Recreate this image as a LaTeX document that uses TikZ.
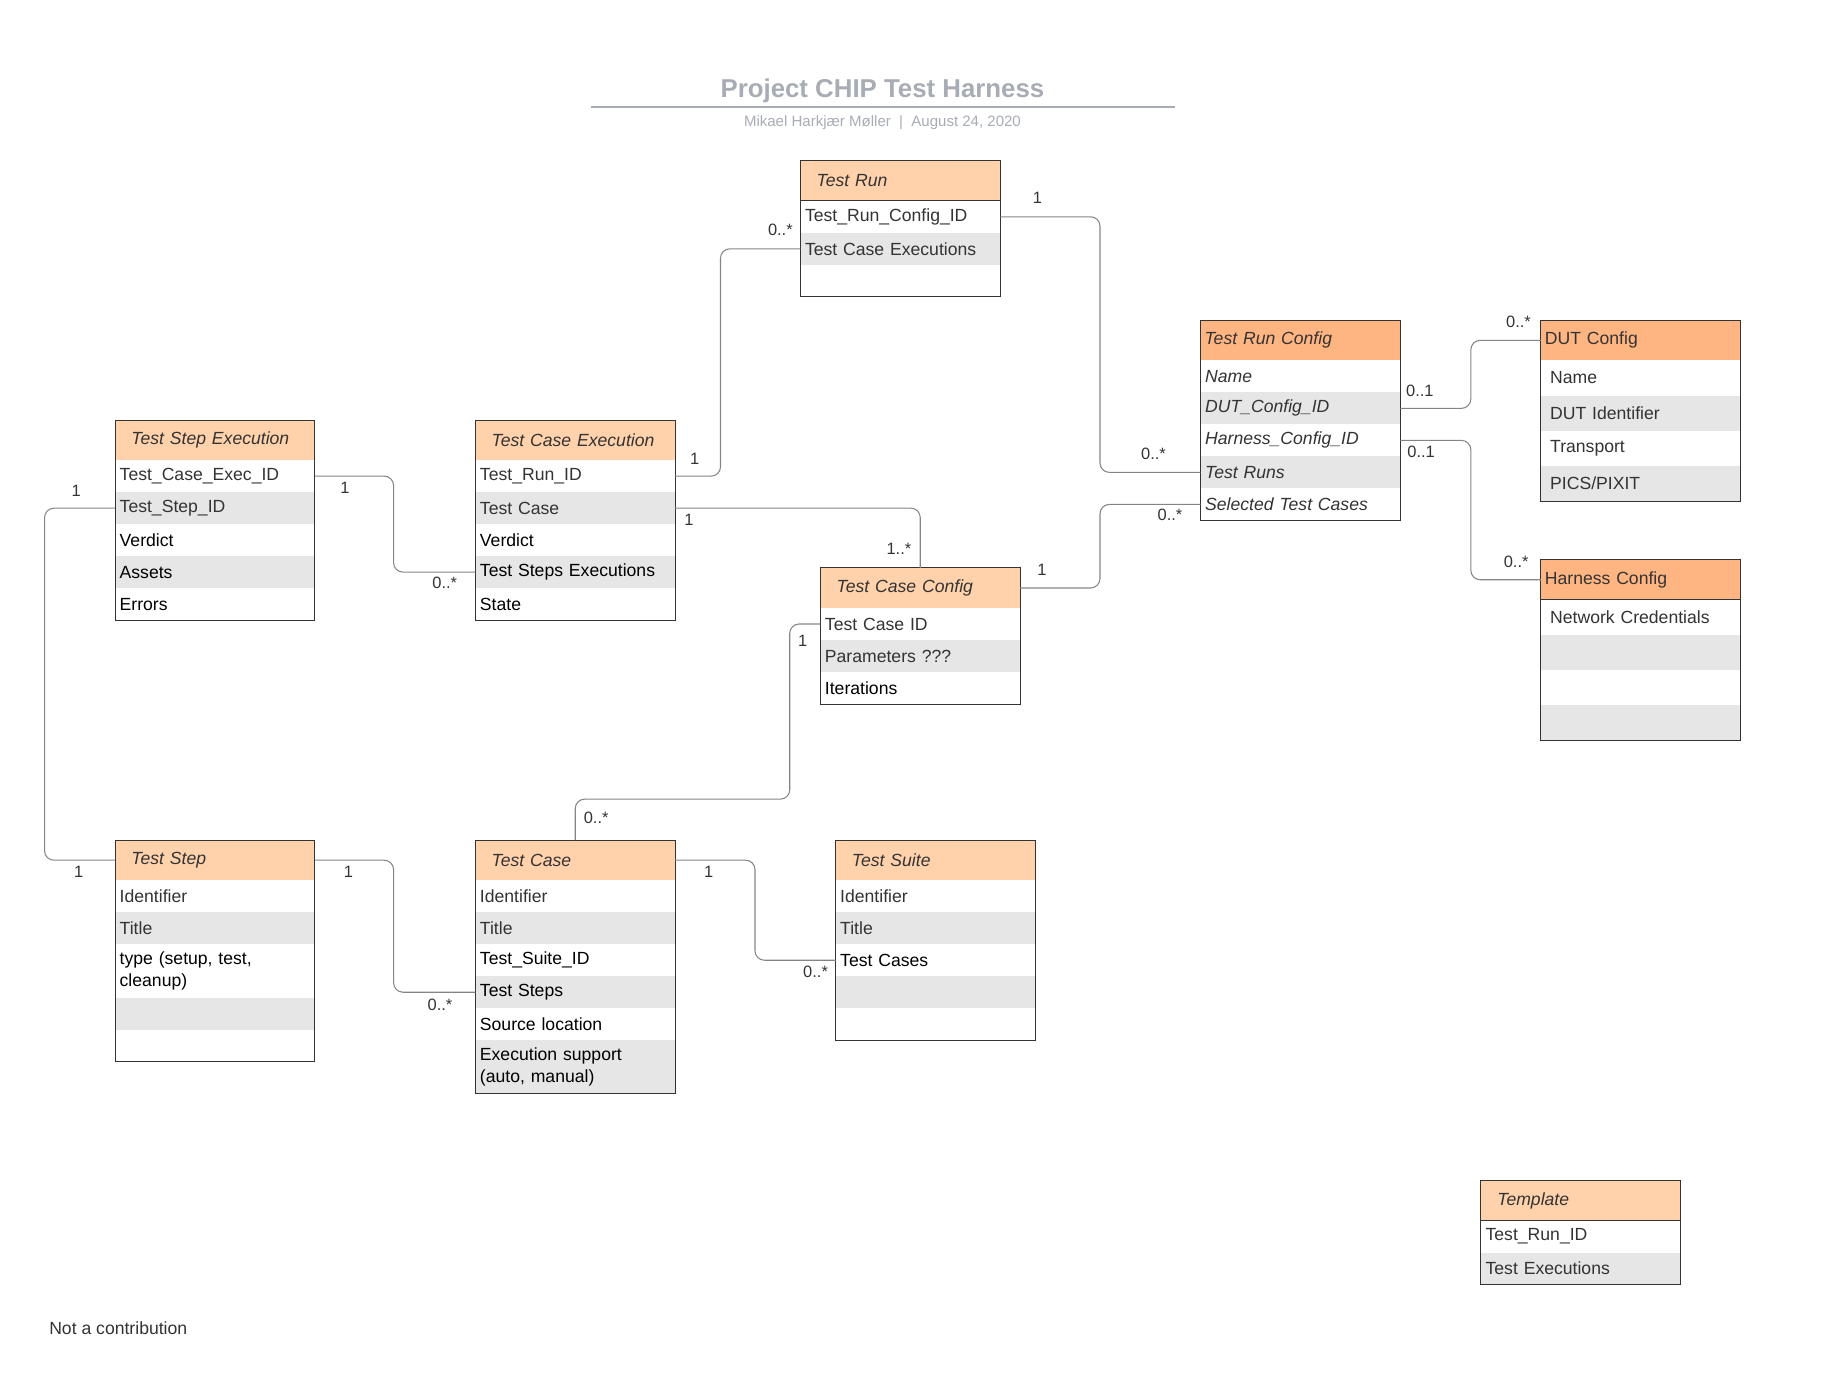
\documentclass[tikz,border=0pt]{standalone}
\usepackage{fontspec}
\setmainfont{Liberation Sans}
\definecolor{peach}{HTML}{FFD2AC}
\definecolor{orng}{HTML}{FFB582}
\definecolor{rowgray}{HTML}{E6E6E6}
\definecolor{bordc}{HTML}{333333}
\definecolor{txt}{HTML}{333333}
\definecolor{connc}{HTML}{858585}
\definecolor{titlec}{HTML}{A7ACB5}
\newcommand\rowat[4]{\node[rowsty,#3] (#1) at (#2.south west) {#4};}
\begin{document}
\begin{tikzpicture}[x=1pt,y=-1pt,
  every node/.style={font=\fontsize{15}{18}\selectfont, text=txt, outer sep=0pt},
  hdr/.style={draw=bordc, line width=0.8pt, fill=peach, anchor=north west, minimum height=34.1pt,
    inner xsep=14pt, inner ysep=0pt, text width=142.4pt, align=left, font=\fontsize{15}{18}\selectfont\itshape},
  hdrB/.style={hdr, fill=orng, inner xsep=3.5pt, text width=163.4pt},
  hdrC/.style={hdrB, font=\fontsize{15}{18}\selectfont},
  rowsty/.style={anchor=north west, minimum height=27.27pt, inner xsep=4pt, inner ysep=0pt,
    text width=162.4pt, align=left},
  whiterow/.style={fill=white},
  grayrow/.style={fill=rowgray},
  blk/.style={text=black},
  itl/.style={font=\fontsize{15}{18}\selectfont\itshape},
  wide/.style={inner xsep=8pt, text width=154.4pt, minimum height=30pt},
  tall/.style={minimum height=45.5pt},
  bord/.style={draw=bordc, line width=0.8pt},
  conn/.style={draw=connc, line width=0.9pt, rounded corners=8pt},
  mult/.style={font=\fontsize{14}{16}\selectfont, text=txt, inner sep=0pt}
]
\useasboundingbox (0,0) rectangle (1568,1188);

% Title
\node[font=\fontsize{22}{26}\selectfont\bfseries, text=titlec] (title) at (752,77.5) {Project CHIP Test Harness};
\draw[titlec, line width=1.5pt] (504,91) -- (1001,91);
\node[font=\fontsize{12.8}{15}\selectfont, text=titlec] (sub) at (752,104.5) {Mikael Harkjær Møller\ \ |\ \ August 24, 2020};

% Test Run
\node[hdr] (tr) at (682,137) {Test Run};
\rowat{tr1}{tr}{whiterow}{Test\_Run\_Config\_ID}
\rowat{tr2}{tr1}{grayrow}{Test Case Executions}
\rowat{tr3}{tr2}{whiterow}{}
\draw[bord] (tr.north west) rectangle (tr3.south east);

% Test Step Execution
\node[hdr] (tse) at (98,358) {Test Step Execution};
\rowat{tse1}{tse}{whiterow}{Test\_Case\_Exec\_ID}
\rowat{tse2}{tse1}{grayrow}{Test\_Step\_ID}
\rowat{tse3}{tse2}{whiterow,blk}{Verdict}
\rowat{tse4}{tse3}{grayrow,blk}{Assets}
\rowat{tse5}{tse4}{whiterow,blk}{Errors}
\draw[bord] (tse.north west) rectangle (tse5.south east);

% Test Case Execution
\node[hdr] (tce) at (405,358) {Test Case Execution};
\rowat{tce1}{tce}{whiterow}{Test\_Run\_ID}
\rowat{tce2}{tce1}{grayrow}{Test Case}
\rowat{tce3}{tce2}{whiterow,blk}{Verdict}
\rowat{tce4}{tce3}{grayrow,blk}{Test Steps Executions}
\rowat{tce5}{tce4}{whiterow,blk}{State}
\draw[bord] (tce.north west) rectangle (tce5.south east);

% Test Run Config
\node[hdrB] (trc) at (1023,273) {Test Run Config};
\rowat{trc1}{trc}{whiterow,itl}{Name}
\rowat{trc2}{trc1}{grayrow,itl}{DUT\_Config\_ID}
\rowat{trc3}{trc2}{whiterow,itl}{Harness\_Config\_ID}
\rowat{trc4}{trc3}{grayrow,itl}{Test Runs}
\rowat{trc5}{trc4}{whiterow,itl}{Selected Test Cases}
\draw[bord] (trc.north west) rectangle (trc5.south east);

% DUT Config
\node[hdrC] (dut) at (1313,273) {DUT Config};
\rowat{dut1}{dut}{whiterow,wide}{Name}
\rowat{dut2}{dut1}{grayrow,wide}{DUT Identifier}
\rowat{dut3}{dut2}{whiterow,wide}{Transport}
\rowat{dut4}{dut3}{grayrow,wide}{PICS/PIXIT}
\draw[bord] (dut.north west) rectangle (dut4.south east);

% Harness Config
\node[hdrC] (har) at (1313,477) {Harness Config};
\rowat{har1}{har}{whiterow,wide}{Network Credentials}
\rowat{har2}{har1}{grayrow,wide}{}
\rowat{har3}{har2}{whiterow,wide}{}
\rowat{har4}{har3}{grayrow,wide}{}
\draw[bord] (har.north west) rectangle (har4.south east);

% Test Case Config
\node[hdr] (tcc) at (699,484) {Test Case Config};
\rowat{tcc1}{tcc}{whiterow}{Test Case ID}
\rowat{tcc2}{tcc1}{grayrow}{Parameters ???}
\rowat{tcc3}{tcc2}{whiterow,blk}{Iterations}
\draw[bord] (tcc.north west) rectangle (tcc3.south east);

% Test Step
\node[hdr] (ts) at (98,716) {Test Step};
\rowat{ts1}{ts}{whiterow}{Identifier}
\rowat{ts2}{ts1}{grayrow}{Title}
\rowat{ts3}{ts2}{whiterow,blk,tall}{type (setup, test,\\cleanup)}
\rowat{ts4}{ts3}{grayrow}{}
\rowat{ts5}{ts4}{whiterow}{}
\draw[bord] (ts.north west) rectangle (ts5.south east);

% Test Case
\node[hdr] (tc) at (405,716) {Test Case};
\rowat{tc1}{tc}{whiterow}{Identifier}
\rowat{tc2}{tc1}{grayrow}{Title}
\rowat{tc3}{tc2}{whiterow,blk}{Test\_Suite\_ID}
\rowat{tc4}{tc3}{grayrow,blk}{Test Steps}
\rowat{tc5}{tc4}{whiterow,blk}{Source location}
\rowat{tc6}{tc5}{grayrow,blk,tall}{Execution support\\(auto, manual)}
\draw[bord] (tc.north west) rectangle (tc6.south east);

% Test Suite
\node[hdr] (sui) at (712,716) {Test Suite};
\rowat{sui1}{sui}{whiterow}{Identifier}
\rowat{sui2}{sui1}{grayrow}{Title}
\rowat{sui3}{sui2}{whiterow,blk}{Test Cases}
\rowat{sui4}{sui3}{grayrow}{}
\rowat{sui5}{sui4}{whiterow}{}
\draw[bord] (sui.north west) rectangle (sui5.south east);

% Template
\node[hdr] (tpl) at (1262,1006) {Template};
\rowat{tpl1}{tpl}{whiterow}{Test\_Run\_ID}
\rowat{tpl2}{tpl1}{grayrow}{Test Executions}
\draw[bord] (tpl.north west) rectangle (tpl2.south east);

% Connectors
\draw[conn] (tr1.east) -- ++(85,0) |- (trc4.west);
\draw[conn] (tr2.west) -- ++(-68,0) |- (tce1.east);
\draw[conn] (tce2.east) -| (tcc.north);
\draw[conn] (tcc.east) -- ++(68,0) |- (trc5.west);
\draw[conn] (trc2.east) -- ++(60,0) |- (dut.west);
\draw[conn] (trc3.east) -- ++(60,0) |- (har.west);
\draw[conn] (tse1.east) -- ++(67,0) |- (tce4.west);
\draw[conn] (tse2.west) -- ++(-60,0) |- (ts.west);
\draw[conn] (tcc1.west) -- ++(-26,0) |- ([yshift=35pt]tc.north) -- (tc.north);
\draw[conn] (ts.east) -- ++(67,0) |- (tc4.west);
\draw[conn] (tc.east) -- ++(68,0) |- (sui3.west);

% Multiplicities
\node[mult] (m1) at (884,169) {1};
\node[mult] (m2) at (983,387) {0..*};
\node[mult] (m3) at (665,196) {0..*};
\node[mult] (m4) at (592,391) {1};
\node[mult] (m5) at (587,443) {1};
\node[mult] (m6) at (766,468) {1..*};
\node[mult] (m7) at (888,486) {1};
\node[mult] (m8) at (997,439) {0..*};
\node[mult] (m9) at (1210,333) {0..1};
\node[mult] (m10) at (1294,274) {0..*};
\node[mult] (m11) at (1211,385) {0..1};
\node[mult] (m12) at (1292,479) {0..*};
\node[mult] (m13) at (294,416) {1};
\node[mult] (m14) at (379,497) {0..*};
\node[mult] (m15) at (65,418) {1};
\node[mult] (m16) at (67,743) {1};
\node[mult] (m17) at (684,546) {1};
\node[mult] (m18) at (508,697) {0..*};
\node[mult] (m19) at (297,743) {1};
\node[mult] (m20) at (375,856) {0..*};
\node[mult] (m21) at (604,743) {1};
\node[mult] (m22) at (695,828) {0..*};

\node[anchor=west, text=txt, inner sep=0pt] (nac) at (42,1132) {Not a contribution};
\end{tikzpicture}
\end{document}
